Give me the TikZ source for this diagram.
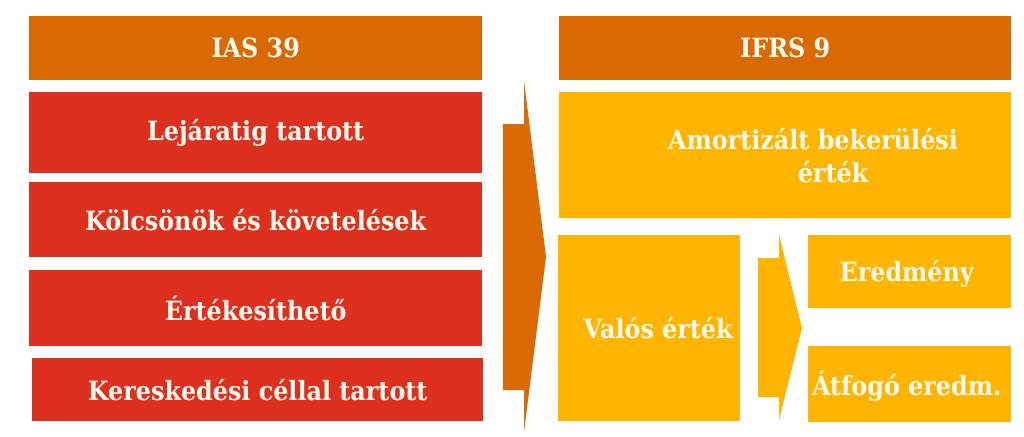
\documentclass[tikz,border=0pt]{standalone}
\usepackage{fontspec}
\setmainfont{DejaVu Serif}[FakeStretch=0.9]
\definecolor{hdr}{RGB}{217,105,0}
\definecolor{redb}{RGB}{222,48,30}
\definecolor{yel}{RGB}{255,181,0}
\definecolor{txt}{RGB}{255,250,240}
\begin{document}
\begin{tikzpicture}[x=1pt,y=-1pt,
  box/.style={rectangle, inner sep=0pt, anchor=north west, text=txt,
    font=\bfseries\fontsize{26.5}{30}\selectfont},
  lbl/.style={inner sep=0pt, text=txt, font=\bfseries\fontsize{26.5}{30}\selectfont},
  hdrbox/.style={box, fill=hdr},
  redbox/.style={box, fill=redb},
  yelbox/.style={box, fill=yel},
]
\useasboundingbox (0,0) rectangle (1024,436);
\fill[white] (0,0) rectangle (1024,436);
% left column
\node[hdrbox, minimum width=453pt, minimum height=64pt] (ias) at (29,16) {IAS 39};
\node[redbox, minimum width=453pt, minimum height=81pt] (lej) at (29,92) {Lejáratig tartott};
\node[redbox, minimum width=453pt, minimum height=75pt] (kol) at (29,182) {Kölcsönök és követelések};
\node[redbox, minimum width=453pt, minimum height=76pt] (ert) at (29,270) {Értékesíthető};
\node[redbox, minimum width=451pt, minimum height=63pt] (ker) at (32,358) {Kereskedési céllal tartott};
% right column
\node[hdrbox, minimum width=452pt, minimum height=64pt] (ifrs) at (559,16) {IFRS 9};
\node[yelbox, minimum width=452pt, minimum height=126pt] (amo) at (559,92) {};
\node[lbl, anchor=base] (amo1) at (813,149) {Amortizált bekerülési};
\node[lbl, anchor=base] (amo2) at (833,182) {érték};
\node[yelbox, minimum width=182pt, minimum height=186pt] (val) at (558,235) {};
\node[lbl] (valt) at ([xshift=9pt]val.center) {Valós érték};
\node[yelbox, minimum width=203pt, minimum height=73pt] (ere) at (808,235) {};
\node[lbl] (eret) at ([xshift=-3pt,yshift=-2pt]ere.center) {Eredmény};
\node[yelbox, minimum width=203pt, minimum height=76pt] (atf) at (808,346) {};
\node[lbl] (atft) at ([xshift=-3pt,yshift=-2pt]atf.center) {Átfogó eredm.};
% block arrows
\fill[hdr] (503,124) -- (524,124) -- (524,81) -- (546,257) -- (524,432) -- (524,390) -- (503,390) -- cycle;
\fill[yel] (758,258) -- (779,258) -- (779,235) -- (802,328) -- (779,420) -- (779,397) -- (758,397) -- cycle;
\end{tikzpicture}
\end{document}
